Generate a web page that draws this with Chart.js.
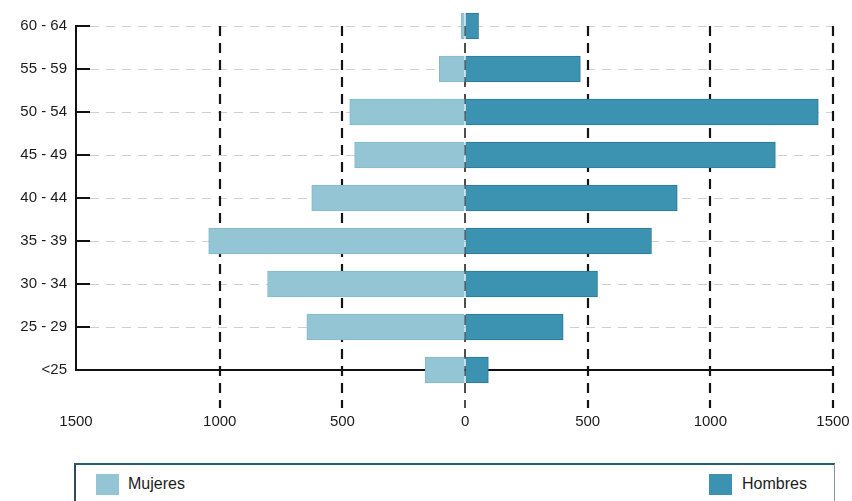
<!DOCTYPE html>
<html>
<head>
<meta charset="utf-8">
<script src="https://cdn.jsdelivr.net/npm/chart.js@4/dist/chart.umd.min.js"></script>
<style>
  html, body { margin: 0; padding: 0; background: #fff; }
  #wrap { position: relative; width: 852px; height: 501px; overflow: hidden; }
  #c { position: absolute; left: 0; top: 0; }
  .legend {
    position: absolute; left: 74px; top: 463px; width: 761px; height: 60px;
    box-sizing: border-box; background: #fff;
    border-top: 2px solid #24616f; border-left: 2px solid #2d4c55; border-right: 1px solid #8a9396;
    font-family: "Liberation Sans", Arial, sans-serif; font-size: 16px; color: #1c1c1c;
  }
  .item { position: absolute; top: 8px; display: flex; align-items: center; height: 22px; }
  .sw { display: inline-block; width: 23px; height: 21px; margin-right: 9px; }
</style>
</head>
<body>
<div id="wrap">
  <canvas id="c" width="852" height="501"></canvas>
  <div class="legend">
    <div class="item" style="left:20px"><span class="sw" style="background:#93c5d5"></span>Mujeres</div>
    <div class="item" style="left:633px"><span class="sw" style="background:#3b93b1;margin-right:10px"></span>Hombres</div>
  </div>
</div>
<script>
// Age groups, top to bottom
const AGE_GROUPS = ['60 - 64', '55 - 59', '50 - 54', '45 - 49', '40 - 44', '35 - 39', '30 - 34', '25 - 29', '<25'];
// Headcount per age group
const MUJERES = [15, 105, 470, 450, 625, 1045, 805, 645, 163];
const HOMBRES = [55, 470, 1440, 1265, 865, 760, 540, 400, 95];
// Horizontal axis: left end of the axis and the labelled ticks
const X_MIN = -1586;
const X_MAX = 1500;
const X_TICK_VALUES = [X_MIN, -1000, -500, 0, 500, 1000, 1500];
const X_TICK_LABELS = ['1500', '1000', '500', '0', '500', '1000', '1500'];

const FONT = { family: '"Liberation Sans", Arial, sans-serif', size: 15 };

// Dashed guide lines and the short inner ticks of the age axis
const pyramidGrid = {
  id: 'pyramidGrid',
  beforeDatasetsDraw(chart) {
    const { ctx, chartArea: a, scales: { x, y } } = chart;
    ctx.save();
    // light horizontal guides at each age group
    ctx.strokeStyle = '#cfcfcf';
    ctx.lineWidth = 1;
    ctx.setLineDash([9, 7]);
    y.ticks.forEach((t, i) => {
      if (i === y.ticks.length - 1) return;
      const py = Math.round(y.getPixelForTick(i)) + 0.5;
      ctx.beginPath(); ctx.moveTo(a.left + 14, py); ctx.lineTo(a.right, py); ctx.stroke();
    });
    // bold dashed verticals, running down past the axis
    ctx.strokeStyle = '#141414';
    ctx.setLineDash([10, 7]);
    x.ticks.forEach((t, i) => {
      if (i === 0) return;
      const px = Math.round(x.getPixelForValue(t.value));
      ctx.lineWidth = t.value === 0 ? 1.5 : 2.2;
      ctx.beginPath(); ctx.moveTo(px, a.top); ctx.lineTo(px, a.bottom + 38); ctx.stroke();
    });
    ctx.restore();
  },
  afterDatasetsDraw(chart) {
    const { ctx, chartArea: a, scales: { y } } = chart;
    ctx.save();
    ctx.strokeStyle = '#111';
    ctx.lineWidth = 2;
    y.ticks.forEach((t, i) => {
      if (i === y.ticks.length - 1) return;
      const py = Math.round(y.getPixelForTick(i));
      ctx.beginPath(); ctx.moveTo(a.left, py); ctx.lineTo(a.left + 14, py); ctx.stroke();
    });
    ctx.restore();
  }
};

new Chart(document.getElementById('c'), {
  type: 'bar',
  data: {
    labels: AGE_GROUPS,
    datasets: [
      {
        label: 'Mujeres',
        data: MUJERES.map(v => -v),
        backgroundColor: '#93c5d5',
        borderColor: '#84b8c9',
        borderWidth: 1,
        barThickness: 26,
        clip: false
      },
      {
        label: 'Hombres',
        data: HOMBRES,
        backgroundColor: '#3b93b1',
        borderColor: '#2a7894',
        borderWidth: 1,
        barThickness: 26,
        clip: false
      }
    ]
  },
  options: {
    indexAxis: 'y',
    responsive: false,
    animation: false,
    devicePixelRatio: 1,
    layout: { padding: { top: 26, right: 19, left: 0, bottom: 0 } },
    plugins: { legend: { display: false }, tooltip: { enabled: false } },
    scales: {
      x: {
        type: 'linear',
        stacked: true,
        min: X_MIN,
        max: X_MAX,
        afterBuildTicks: s => { s.ticks = X_TICK_VALUES.map(v => ({ value: v })); },
        afterFit: s => { s.height = 131; },
        grid: {
          display: true,
          drawOnChartArea: false,
          drawTicks: true,
          tickLength: 41,
          color: 'rgba(0,0,0,0)',
          tickColor: 'rgba(0,0,0,0)'
        },
        border: { display: true, color: '#111', width: 2 },
        ticks: {
          padding: 2,
          font: FONT,
          color: '#1c1c1c',
          maxRotation: 0,
          autoSkip: false,
          callback: (v, i) => X_TICK_LABELS[i]
        }
      },
      y: {
        type: 'category',
        stacked: true,
        offset: false,
        afterFit: s => { s.width = 76; },
        grid: { display: false, drawTicks: false },
        border: { display: true, color: '#111', width: 2 },
        ticks: { padding: 9, font: FONT, color: '#1c1c1c', autoSkip: false }
      }
    }
  },
  plugins: [pyramidGrid]
});
</script>
</body>
</html>
